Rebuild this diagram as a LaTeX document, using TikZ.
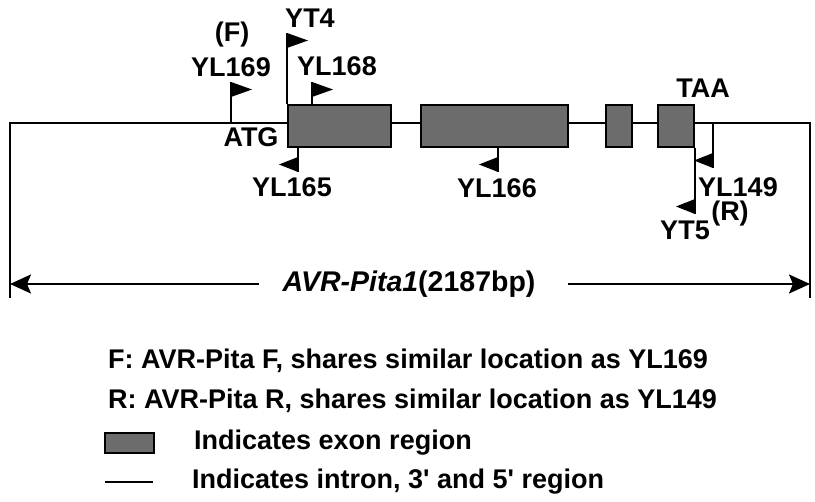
\documentclass[tikz,border=0pt]{standalone}
\usepackage{fontspec}
\setmainfont{Liberation Sans}
\usetikzlibrary{positioning, calc, arrows.meta}
\definecolor{exongray}{RGB}{108,108,108}
\tikzset{
	tag/.style={font=\bfseries\fontsize{27}{30}\selectfont, inner sep=0pt},
	exon/.style={draw, line width=2pt, fill=exongray, inner sep=0pt, anchor=north west},
	dna/.style={line width=1.8pt},
	stem/.style={line width=1.8pt},
	fwdflag/.pic={\fill (0,0) -- (21,7.5) -- (0,15) -- cycle;},
	revflag/.pic={\fill (0,0) -- (-19,-7.5) -- (0,-15) -- cycle;}
}

\begin{document}
\begin{tikzpicture}[x=1pt, y=-1pt]
	\useasboundingbox (0,0) rectangle (815,502);
	% gene frame
	\coordinate (start) at (10,123);
	\coordinate (stop) at (810,123);
	\draw[dna] ($(start)+(0,175)$) -- (start) -- (stop) -- ($(stop)+(0,175)$);
	% exons
	\node[exon, minimum width=103pt, minimum height=42pt] (ex1) at (287,104) {};
	\node[exon, minimum width=147pt, minimum height=42pt] (ex2) at (420,104) {};
	\node[exon, minimum width=26pt, minimum height=42pt] (ex3) at (605,104) {};
	\node[exon, minimum width=36pt, minimum height=42pt] (ex4) at (657,104) {};
	% forward primers
	\coordinate (f169) at (231,123);
	\draw[stem] (f169) -- ++(0,-41) coordinate (t169);
	\pic at (t169) {fwdflag};
	\draw[stem] (ex1.north west) -- ++(0,-71) coordinate (t4);
	\pic at (t4) {fwdflag};
	\draw[stem] ([xshift=25pt]ex1.north west) -- ++(0,-22) coordinate (t168);
	\pic at (t168) {fwdflag};
	% reverse primers
	\draw[stem] ([xshift=11pt]ex1.south west) -- ++(0,24) coordinate (b165);
	\pic at (b165) {revflag};
	\draw[stem] ([xshift=78pt]ex2.south west) -- ++(0,24) coordinate (b166);
	\pic at (b166) {revflag};
	\coordinate (r149) at (713,123);
	\draw[stem] (r149) -- ++(0,45) coordinate (b149);
	\pic at (b149) {revflag};
	\draw[stem] (ex4.south east) -- ++(0,66) coordinate (b5);
	\pic at (b5) {revflag};
	% labels
	\node[tag] (lF) at (232,35) {(F)};
	\node[tag] (l169) at (231,67) {YL169};
	\node[tag] (l4) at (310,18) {YT4};
	\node[tag] (l168) at (337,66) {YL168};
	\node[tag] (atg) at (251,137) {ATG};
	\node[tag] (l165) at (292,187) {YL165};
	\node[tag] (l166) at (497,188) {YL166};
	\node[tag] (taa) at (703,88) {TAA};
	\node[tag] (l149) at (738,187) {YL149};
	\node[tag] (l5) at (685,230) {YT5};
	\node[tag] (lR) at (730,214) {(R)};
	% gene length
	\coordinate (lenL) at (10,284);
	\coordinate (lenR) at (810,284);
	\node[tag, font=\bfseries\fontsize{28.5}{30}\selectfont] (len) at (409,284) {\textit{AVR-Pita1}(2187bp)};
	\draw[dna, line width=2.2pt, -{Stealth[length=21pt,width=19pt,inset=4pt]}] ($(len.west)+(-23,0)$) -- (lenL);
	\draw[dna, line width=2.2pt, -{Stealth[length=21pt,width=19pt,inset=4pt]}] ($(len.east)+(32,0)$) -- (lenR);
	% key
	\node[tag, anchor=west] (keyF) at (108,361) {F: AVR-Pita F, shares similar location as YL169};
	\node[tag, anchor=west] (keyR) at (108,401) {R: AVR-Pita R, shares similar location as YL149};
	\node[exon, minimum width=49pt, minimum height=20pt] (keyexon) at (104,432) {};
	\node[tag, right=39pt of keyexon] (keyexontext) {Indicates exon region};
	\coordinate (keyline) at (105,482);
	\draw[dna] (keyline) -- ++(48,0) coordinate (keylineend);
	\node[tag, right=39pt of keylineend] (keylinetext) {Indicates intron, 3\textquotesingle{} and 5\textquotesingle{} region};
\end{tikzpicture}
\end{document}
